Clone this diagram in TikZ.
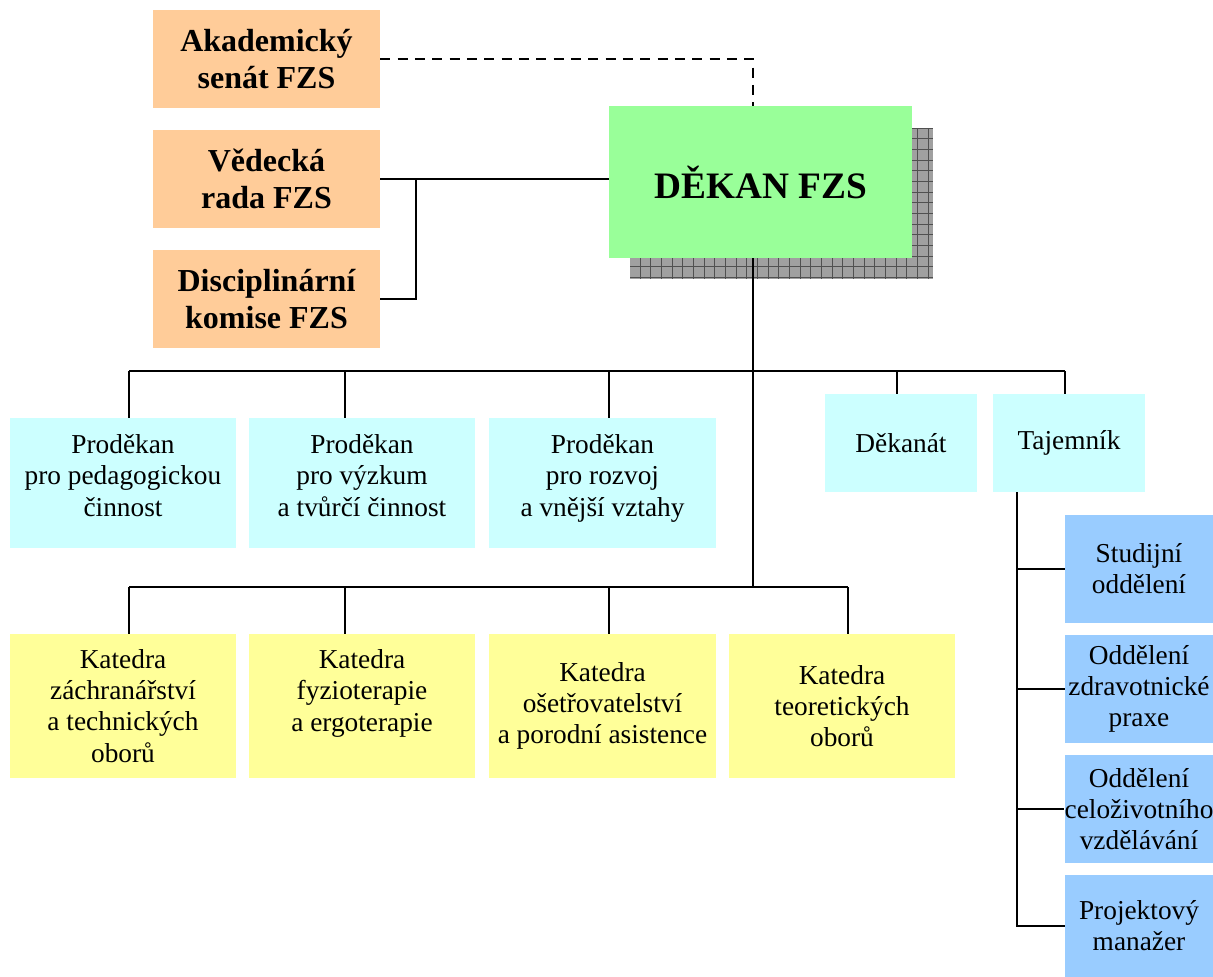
\documentclass[tikz,border=0pt]{standalone}
\usepackage{fontspec}
\setmainfont{Liberation Serif}
\usetikzlibrary{calc}
\definecolor{orgc}{HTML}{FFCC99}
\definecolor{deanc}{HTML}{99FF99}
\definecolor{cyanc}{HTML}{CCFFFF}
\definecolor{yelc}{HTML}{FFFF99}
\definecolor{bluec}{HTML}{99CCFF}
\definecolor{shadc}{HTML}{A0A0A0}
\definecolor{gridc}{HTML}{505050}
\begin{document}
\begin{tikzpicture}[x=0.75pt,y=-0.75pt,
  boxbase/.style={draw=none,inner sep=0pt,align=center},
  orgbox/.style={boxbase,fill=orgc,minimum width=227*0.75pt,minimum height=98*0.75pt,
     font=\fontsize{24}{27.75}\selectfont\bfseries},
  cyanbox/.style={boxbase,fill=cyanc,font=\fontsize{20.5}{23.4}\selectfont},
  yelbox/.style={boxbase,fill=yelc,minimum width=226*0.75pt,minimum height=144*0.75pt,
     font=\fontsize{20.5}{23.4}\selectfont},
  bluebox/.style={boxbase,fill=bluec,minimum width=148*0.75pt,
     font=\fontsize{20.5}{23.4}\selectfont},
  conn/.style={line width=1.9pt},
  dconn/.style={line width=1.6pt,dash pattern=on 7.5pt off 5.5pt}]
\useasboundingbox (0,0) rectangle (1213,976);
% shadow of dean
\begin{scope}
\clip (630,128) rectangle (933,279);
\fill[shadc] (630,128) rectangle (933,279);
\draw[gridc,line width=0.6pt,step=8pt] (630,128) grid (933,279);
\end{scope}
% nodes
\node[orgbox] (aka) at (266.5,59) {Akademický\\senát FZS};
\node[orgbox] (ved) at (266.5,179) {Vědecká\\rada FZS};
\node[orgbox] (dis) at (266.5,299) {Disciplinární\\komise FZS};
\node[boxbase,fill=deanc,minimum width=303*0.75pt,minimum height=152*0.75pt,
  font=\fontsize{28}{32}\selectfont\bfseries] (dek) at (760.5,182) {DĚKAN FZS};
\node[cyanbox,minimum width=226*0.75pt,minimum height=130*0.75pt] (p1) at (123,483)
  {Proděkan\\pro pedagogickou\\činnost\\[-12pt]\mbox{}};
\node[cyanbox,minimum width=226*0.75pt,minimum height=130*0.75pt] (p2) at (362,483)
  {Proděkan\\pro výzkum\\a tvůrčí činnost\\[-12pt]\mbox{}};
\node[cyanbox,minimum width=227*0.75pt,minimum height=130*0.75pt] (p3) at (602.5,483)
  {Proděkan\\pro rozvoj\\a vnější vztahy\\[-12pt]\mbox{}};
\node[cyanbox,minimum width=152*0.75pt,minimum height=98*0.75pt] (dkn) at (901,443) {Děkanát};
\node[cyanbox,minimum width=152*0.75pt,minimum height=98*0.75pt] (taj) at (1069,443) {Tajemník};
\node[yelbox] (k1) at (123,706) {Katedra\\záchranářství\\a technických\\oborů};
\node[yelbox] (k2) at (362,706) {Katedra\\fyzioterapie\\a ergoterapie\\\mbox{}};
\node[yelbox,minimum width=227*0.75pt] (k3) at (602.5,706) {Katedra\\ošetřovatelství\\a porodní asistence};
\node[yelbox] (k4) at (842,706) {Katedra\\teoretických\\oborů};
\node[bluebox,minimum height=108*0.75pt] (s1) at (1139,569) {Studijní\\oddělení};
\node[bluebox,minimum height=108*0.75pt] (s2) at (1139,689) {Oddělení\\zdravotnické\\praxe};
\node[bluebox,minimum height=108*0.75pt] (s3) at (1139,809) {Oddělení\\celoživotního\\vzdělávání};
\node[bluebox,minimum height=102*0.75pt] (s4) at (1139,926) {Projektový\\manažer};
% coordinates
\coordinate (dtop) at (753,59);
\coordinate (trunk) at (753,371);
\coordinate (trunk2) at (753,587);
\coordinate (vj) at (416,179);
\coordinate (b1) at (129,371);
\coordinate (b2) at (345,371);
\coordinate (b3) at (609,371);
\coordinate (b4) at (897,371);
\coordinate (b5) at (1065,371);
\coordinate (c1) at (129,587);
\coordinate (c2) at (345,587);
\coordinate (c3) at (609,587);
\coordinate (c4) at (848,587);
\coordinate (tj) at (1017,443);
% connectors
\draw[dconn] (aka.east) -- (dtop) -- (dtop |- dek.north);
\draw[conn] (ved.east) -- (ved.east -| dek.west);
\draw[conn] (vj) -- (vj |- dis.east) -- (dis.east);
\draw[conn] (dek.south -| trunk) -- (trunk2);
\draw[conn] (b1) -- (b5);
\draw[conn] (b1) -- (b1 |- p1.north);
\draw[conn] (b2) -- (b2 |- p2.north);
\draw[conn] (b3) -- (b3 |- p3.north);
\draw[conn] (b4) -- (b4 |- dkn.north);
\draw[conn] (b5) -- (b5 |- taj.north);
\draw[conn] (c1) -- (c4);
\draw[conn] (c1) -- (c1 |- k1.north);
\draw[conn] (c2) -- (c2 |- k2.north);
\draw[conn] (c3) -- (c3 |- k3.north);
\draw[conn] (c4) -- (c4 |- k4.north);
\draw[conn] (tj |- taj.south) -- (tj |- s4.west) -- (s4.west);
\draw[conn] (tj |- s1.west) -- (s1.west);
\draw[conn] (tj |- s2.west) -- (s2.west);
\draw[conn] (tj |- s3.west) -- (s3.west);
\end{tikzpicture}
\end{document}
